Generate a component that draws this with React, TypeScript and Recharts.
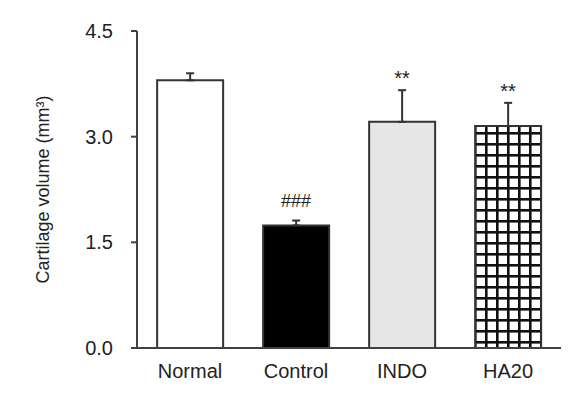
import React from 'react';
import { ComposedChart, Bar, Line, XAxis, YAxis, ErrorBar, Cell, LabelList } from 'recharts';

const groups = ['Normal', 'Control', 'INDO', 'HA20'];
const volumes = [3.80, 1.74, 3.21, 3.15];
const errorsUp = [0.10, 0.07, 0.45, 0.33];
const marks = ['', '###', '**', '**'];
const yTicks = [0, 1.5, 3.0, 4.5];
const fills = ['#ffffff', '#000000', '#e6e6e6', 'url(#gridPattern)'];

const data = groups.map((g, i) => ({
  group: g,
  volume: volumes[i],
  err: [0, errorsUp[i]],
  markPos: volumes[i] + errorsUp[i],
  mark: marks[i],
}));

const FONT = '"Liberation Sans", Arial, sans-serif';

const MarkLabel = (props: any) => {
  const { x, y, value } = props;
  if (!value) return null;
  const isHash = String(value).startsWith('#');
  return (
    <text
      x={x}
      y={y - (isHash ? 13 : 5)}
      textAnchor="middle"
      fill="#222"
      fontSize={isHash ? 18 : 20}
      fontFamily={FONT}
    >
      {value}
    </text>
  );
};

export default function App() {
  return (
    <div style={{ position: 'absolute', left: 0, top: 0 }}>
      <ComposedChart
        width={582}
        height={398}
        data={data}
        margin={{ top: 31, right: 21, bottom: 0, left: 0 }}
        barCategoryGap="19%"
      >
        <defs>
          <pattern id="gridPattern" patternUnits="userSpaceOnUse" x={474} y={0} width={11} height={11}>
            <rect x={0} y={0} width={11} height={11} fill="#ffffff" />
            <rect x={0} y={0} width={2.6} height={11} fill="#111111" />
            <rect x={0} y={0} width={11} height={2.6} fill="#111111" />
          </pattern>
        </defs>
        <XAxis
          dataKey="group"
          height={50}
          tickLine={false}
          tickSize={0}
          tickMargin={16}
          axisLine={{ stroke: '#404040', strokeWidth: 2 }}
          tick={{ fill: '#222', fontSize: 20, fontFamily: FONT }}
          padding={{ left: 0, right: 0 }}
        />
        <YAxis
          width={137}
          domain={[0, 4.5]}
          ticks={yTicks}
          tickFormatter={(v: number) => v.toFixed(1)}
          tickSize={6}
          tickMargin={18}
          tickLine={{ stroke: '#404040', strokeWidth: 2 }}
          axisLine={{ stroke: '#404040', strokeWidth: 2 }}
          tick={{ fill: '#222', fontSize: 20, fontFamily: FONT }}
          label={{
            value: 'Cartilage volume (mm³)',
            angle: -90,
            position: 'insideLeft',
            dx: 38,
            fill: '#222',
            fontSize: 18,
            fontFamily: FONT,
            style: { textAnchor: 'middle' },
          }}
        />
        <Bar dataKey="volume" isAnimationActive={false} stroke="#333" strokeWidth={2}>
          {data.map((d, i) => (
            <Cell key={d.group} fill={fills[i]} />
          ))}
          <ErrorBar dataKey="err" direction="y" width={4} stroke="#333" strokeWidth={2} />
        </Bar>
        <Line
          dataKey="markPos"
          stroke="none"
          dot={false}
          activeDot={false}
          isAnimationActive={false}
        >
          <LabelList dataKey="mark" content={MarkLabel} />
        </Line>
      </ComposedChart>
    </div>
  );
}
